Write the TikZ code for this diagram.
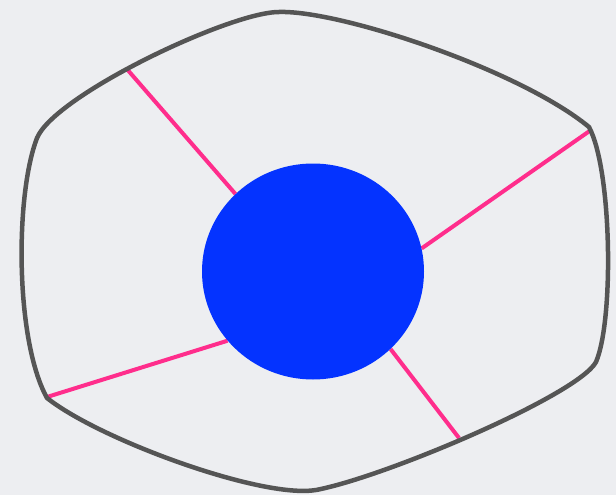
\documentclass[tikz,border=0pt]{standalone}
\usetikzlibrary{shapes.geometric,backgrounds}
\definecolor{bg}{RGB}{237,238,241}
\definecolor{outl}{RGB}{85,85,85}
\definecolor{pinkl}{RGB}{255,45,140}
\definecolor{blueb}{RGB}{4,51,255}
\begin{document}
\begin{tikzpicture}[x=1pt,y=-1pt,
  outline/.style={draw=outl,line width=4.5pt,line join=round},
  spoke/.style={draw=pinkl,line width=4pt},
  hubstyle/.style={ellipse,fill=blueb,minimum width=222pt,minimum height=216pt,inner sep=0pt}]
\begin{scope}[on background layer]
\fill[bg] (0,0) rectangle (616,495);
\end{scope}
\useasboundingbox (0,0) rectangle (616,495);
\coordinate (vt) at (279,12);
\coordinate (vur) at (589,127);
\coordinate (vlr) at (596,362);
\coordinate (vb) at (316,490);
\coordinate (vll) at (47,398);
\coordinate (vul) at (37,138);
\draw[outline] (vt) .. controls (340,10) and (520,70) .. (vur)
  .. controls (612,170) and (614,320) .. (vlr)
  .. controls (578,395) and (385,477) .. (vb)
  .. controls (262,499) and (100,440) .. (vll)
  .. controls (15,340) and (15,195) .. (vul)
  .. controls (55,95) and (230,12) .. (vt) -- cycle;
\node[hubstyle] (hub) at (313,271.5) {};
\coordinate (e1) at (126,68);
\coordinate (e2) at (591,130);
\coordinate (e3) at (47,397);
\coordinate (e4) at (459,438);
\begin{scope}[on background layer]
\draw[spoke] (e1) -- (hub.135.9);
\draw[spoke] (e2) -- (hub.12.1);
\draw[spoke] (e3) -- (hub.219.7);
\draw[spoke] (e4) -- (hub.315.9);
\end{scope}
\end{tikzpicture}
\end{document}
